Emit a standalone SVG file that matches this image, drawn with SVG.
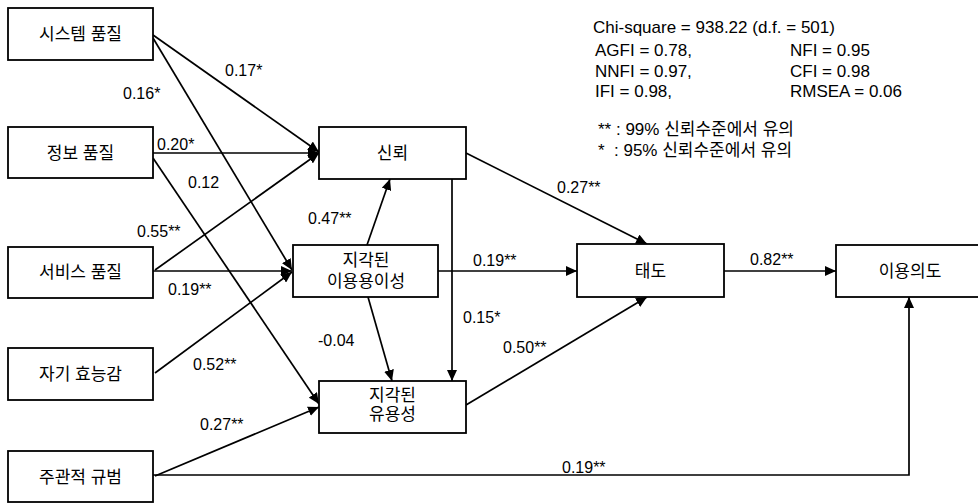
<svg xmlns="http://www.w3.org/2000/svg" width="978" height="504" viewBox="0 0 978 504">
<defs>
<marker id="arr" markerUnits="userSpaceOnUse" markerWidth="12" markerHeight="10" refX="11" refY="5" orient="auto">
<path d="M0,0 L11,5 L0,10 z" fill="#000"/>
</marker>
<style>
.box{fill:#fff;stroke:#000;stroke-width:1.8}
.nt{font-family:"Liberation Sans","Noto Sans CJK KR",sans-serif;font-size:17px;text-anchor:middle;dominant-baseline:central;fill:#000}
.lb{font-family:"Liberation Sans","Noto Sans CJK KR",sans-serif;font-size:16px;fill:#000}
.st{font-family:"Liberation Sans","Noto Sans CJK KR",sans-serif;font-size:17px;fill:#000}
.cn{fill:none;stroke:#000;stroke-width:1.7;marker-end:url(#arr)}
</style>
</defs>
<rect width="978" height="504" fill="#fff"/>
<g id="connectors">
<path class="cn" d="M153,35 L319,152"/>
<path class="cn" d="M153,38 L292,270"/>
<path class="cn" d="M153,153 L319,153"/>
<path class="cn" d="M153,158 L319,404"/>
<path class="cn" d="M155,270 L319,153"/>
<path class="cn" d="M153,271 L292,271"/>
<path class="cn" d="M155,373 L292,272"/>
<path class="cn" d="M155,476 L319,407"/>
<path class="cn" d="M153,475 L909,475 L909,297"/>
<path class="cn" d="M367,245 L390,179"/>
<path class="cn" d="M368,297 L392,381"/>
<path class="cn" d="M452,179 L452,381"/>
<path class="cn" d="M438,271 L577,271"/>
<path class="cn" d="M466,153 L647,244"/>
<path class="cn" d="M466,405 L647,297"/>
<path class="cn" d="M724,271 L836,271"/>
</g>
<g id="edge-labels">
<text class="lb" x="225" y="76">0.17*</text>
<text class="lb" x="123" y="99">0.16*</text>
<text class="lb" x="157" y="150">0.20*</text>
<text class="lb" x="188" y="188">0.12</text>
<text class="lb" x="137" y="237">0.55**</text>
<text class="lb" x="168" y="295">0.19**</text>
<text class="lb" x="193" y="370">0.52**</text>
<text class="lb" x="200" y="430">0.27**</text>
<text class="lb" x="308" y="224">0.47**</text>
<text class="lb" x="318" y="346">-0.04</text>
<text class="lb" x="463" y="323">0.15*</text>
<text class="lb" x="473" y="266">0.19**</text>
<text class="lb" x="557" y="193">0.27**</text>
<text class="lb" x="503" y="353">0.50**</text>
<text class="lb" x="750" y="265">0.82**</text>
<text class="lb" x="562" y="473">0.19**</text>
</g>
<g id="n-system"><rect class="box" x="8" y="8" width="145" height="52"/><text class="nt" x="80.5" y="34">시스템 품질</text></g>
<g id="n-info"><rect class="box" x="8" y="127" width="145" height="51"/><text class="nt" x="80.5" y="153">정보 품질</text></g>
<g id="n-service"><rect class="box" x="8" y="247" width="145" height="51"/><text class="nt" x="80.5" y="272">서비스 품질</text></g>
<g id="n-selfeff"><rect class="box" x="8" y="348" width="145" height="52"/><text class="nt" x="80.5" y="374">자기 효능감</text></g>
<g id="n-norm"><rect class="box" x="8" y="451" width="145" height="51"/><text class="nt" x="80.5" y="477">주관적 규범</text></g>
<g id="n-trust"><rect class="box" x="319" y="127" width="147" height="52"/><text class="nt" x="392.5" y="153">신뢰</text></g>
<g id="n-peou"><rect class="box" x="293" y="245" width="145" height="52"/><text class="nt" x="366" y="260">지각된</text><text class="nt" x="366" y="281">이용용이성</text></g>
<g id="n-pu"><rect class="box" x="319" y="381" width="147" height="52"/><text class="nt" x="392.5" y="395">지각된</text><text class="nt" x="392.5" y="414">유용성</text></g>
<g id="n-att"><rect class="box" x="577" y="244" width="147" height="53"/><text class="nt" x="650.5" y="271">태도</text></g>
<g id="n-intent"><rect class="box" x="836" y="245" width="156" height="52"/><text class="nt" x="910" y="271">이용의도</text></g>
<g id="stats">
<text class="st" x="593" y="33">Chi-square = 938.22 (d.f. = 501)</text>
<text class="st" x="595" y="56">AGFI = 0.78,</text>
<text class="st" x="595" y="77">NNFI = 0.97,</text>
<text class="st" x="595" y="97">IFI = 0.98,</text>
<text class="st" x="790" y="56">NFI = 0.95</text>
<text class="st" x="790" y="77">CFI = 0.98</text>
<text class="st" x="790" y="97">RMSEA = 0.06</text>
<text class="st" x="598" y="135">** : 99% 신뢰수준에서 유의</text>
<text class="st" x="598" y="156">*<tspan x="614">: 95% 신뢰수준에서 유의</tspan></text>
</g>
</svg>
